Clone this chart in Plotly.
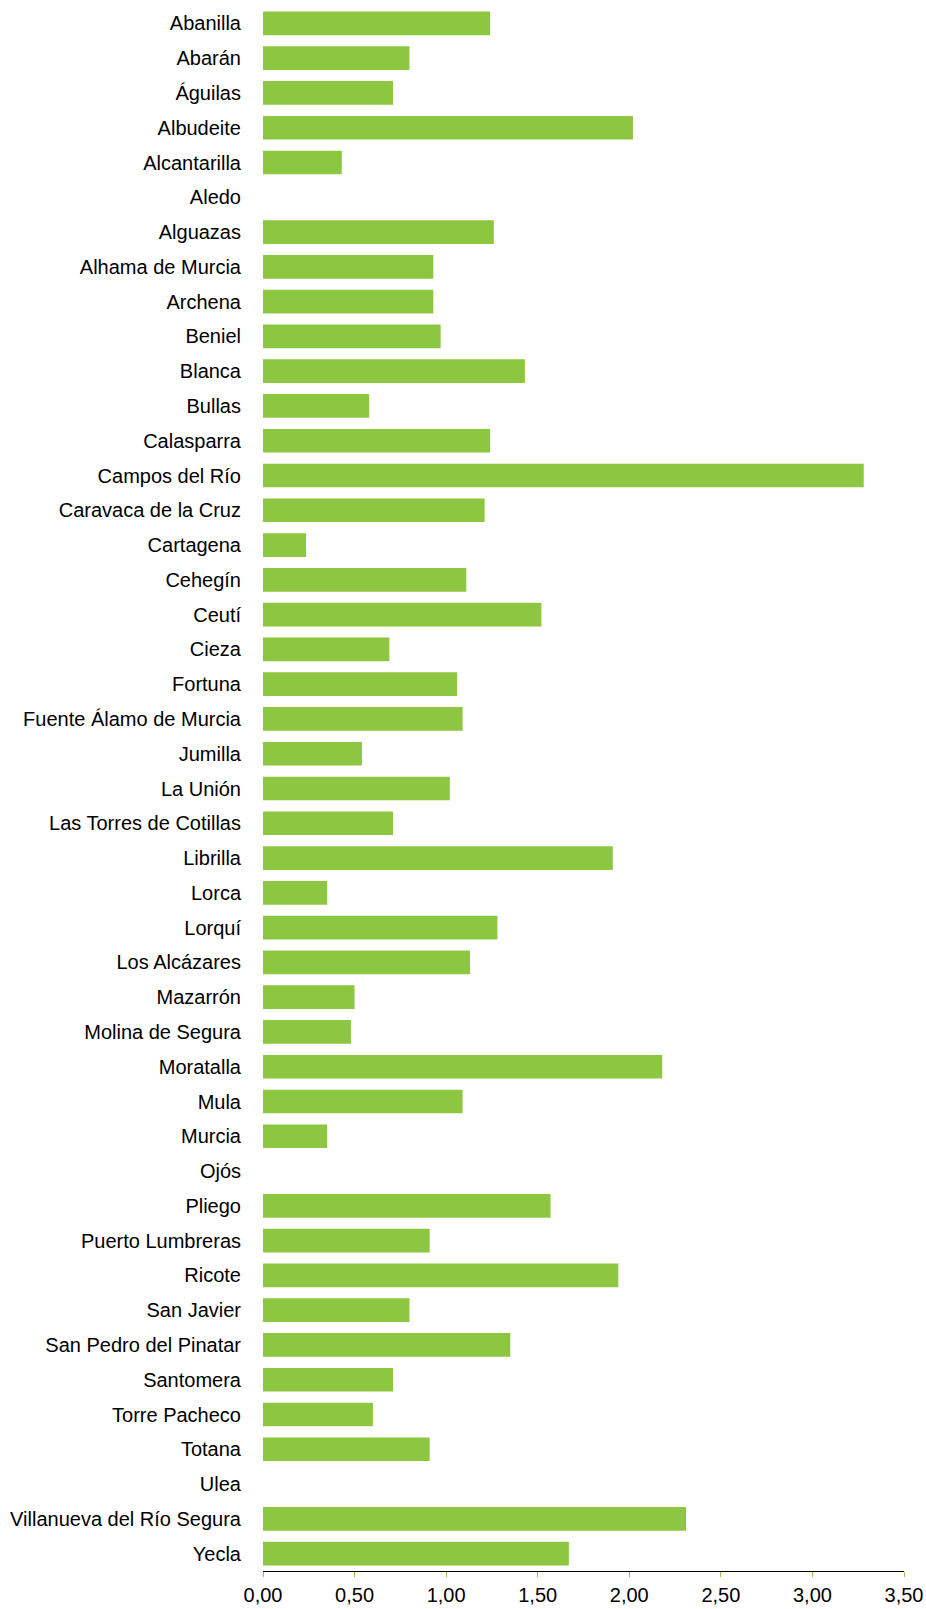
import plotly.graph_objects as go

municipios = [
    "Abanilla", "Abarán", "Águilas", "Albudeite", "Alcantarilla", "Aledo",
    "Alguazas", "Alhama de Murcia", "Archena", "Beniel", "Blanca", "Bullas",
    "Calasparra", "Campos del Río", "Caravaca de la Cruz", "Cartagena",
    "Cehegín", "Ceutí", "Cieza", "Fortuna", "Fuente Álamo de Murcia",
    "Jumilla", "La Unión", "Las Torres de Cotillas", "Librilla", "Lorca",
    "Lorquí", "Los Alcázares", "Mazarrón", "Molina de Segura", "Moratalla",
    "Mula", "Murcia", "Ojós", "Pliego", "Puerto Lumbreras", "Ricote",
    "San Javier", "San Pedro del Pinatar", "Santomera", "Torre Pacheco",
    "Totana", "Ulea", "Villanueva del Río Segura", "Yecla",
]
valores = [
    1.24, 0.80, 0.71, 2.02, 0.43, 0.0,
    1.26, 0.93, 0.93, 0.97, 1.43, 0.58,
    1.24, 3.28, 1.21, 0.235,
    1.11, 1.52, 0.69, 1.06, 1.09,
    0.54, 1.02, 0.71, 1.91, 0.35,
    1.28, 1.13, 0.50, 0.48, 2.18,
    1.09, 0.35, 0.0, 1.57, 0.91, 1.94,
    0.80, 1.35, 0.71, 0.60,
    0.91, 0.0, 2.31, 1.67,
]
x_ticks = [0, 0.5, 1.0, 1.5, 2.0, 2.5, 3.0, 3.5]

fig = go.Figure(go.Bar(
    y=municipios, x=valores, orientation="h",
    marker=dict(color="#8DC641", line=dict(width=0)),
))

fig.update_layout(
    width=926, height=1609,
    margin=dict(l=263, r=22, t=6, b=38),
    paper_bgcolor="white", plot_bgcolor="white",
    bargap=0.32,
    separators=",.",
    showlegend=False,
    font=dict(family="Liberation Sans, Arial, sans-serif", size=20, color="black"),
)
fig.update_yaxes(
    type="category", categoryorder="array", categoryarray=municipios,
    autorange="reversed", showgrid=False, showline=False, ticks="",
    ticklabelstandoff=21, tickfont=dict(size=20), automargin=False,
)
fig.update_xaxes(
    range=[0, 3.5], tickvals=x_ticks, tickformat=".2f",
    showgrid=False, zeroline=False, showline=True, linecolor="black", linewidth=1,
    ticks="outside", ticklen=5, tickcolor="#8DC641", tickwidth=1,
    ticklabelstandoff=1, tickfont=dict(size=20), automargin=False,
)

fig.write_html("out.html", config={"displayModeBar": False},
               post_script="document.body.style.margin='0';")
